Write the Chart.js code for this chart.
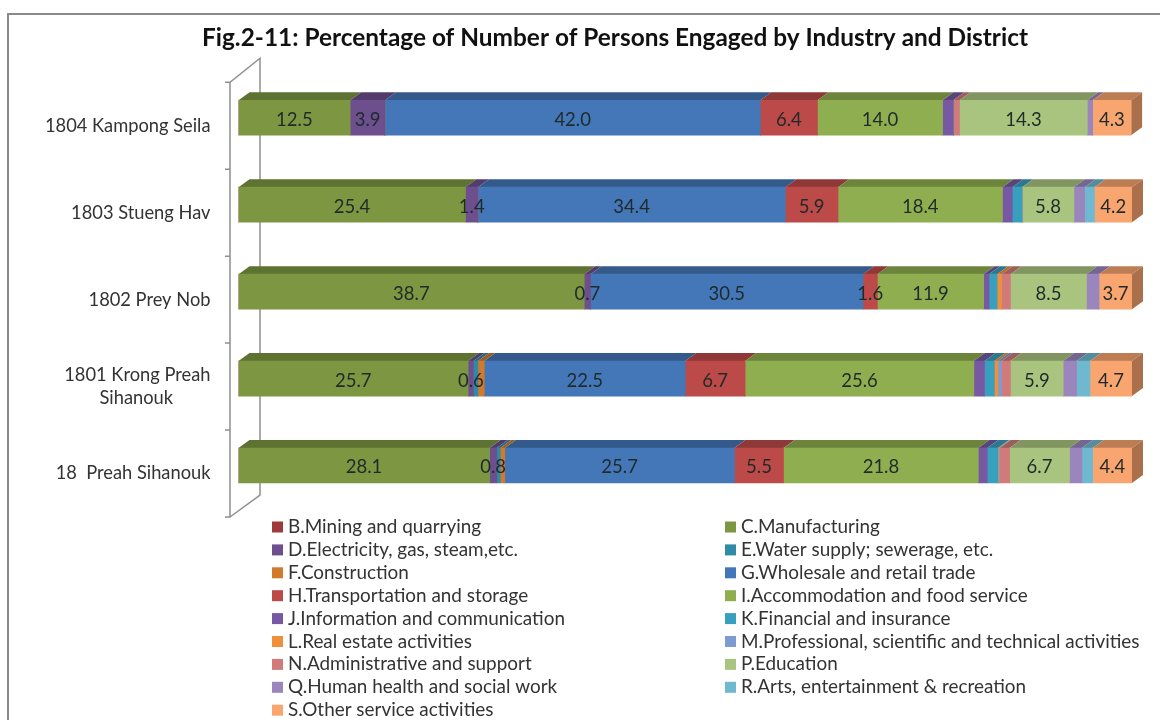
<!DOCTYPE html>
<html>
<head>
<meta charset="utf-8">
<script src="https://cdn.jsdelivr.net/npm/chart.js@4"></script>
<style>
html,body{margin:0;padding:0;background:#fff;overflow:hidden;width:1160px;height:720px}
#frame{position:absolute;left:7px;top:13px;width:1160px;height:720px;border:2px solid #8a8a8a;box-sizing:border-box}
</style>
</head>
<body>
<div id="frame"></div>
<canvas id="barChart" width="1160" height="720" style="position:absolute;left:0;top:0"></canvas>
<script>
// districts, top to bottom
var categories = ["1804 Kampong Seila", "1803 Stueng Hav", "1802 Prey Nob", ["1801 Krong Preah", "Sihanouk"], "18  Preah Sihanouk"];
var titleText = "Fig.2-11: Percentage of Number of Persons Engaged by Industry and District";

// percentages
var mining        = [0, 0, 0, 0, 0];
var manufacturing = [12.5, 25.4, 38.7, 25.7, 28.1];
var electricity   = [3.9, 1.4, 0.7, 0.6, 0.8];
var water         = [0, 0, 0, 0.5, 0.4];
var construction  = [0, 0, 0, 0.7, 0.5];
var wholesale     = [42.0, 34.4, 30.5, 22.5, 25.7];
var transport     = [6.4, 5.9, 1.6, 6.7, 5.5];
var accommodation = [14.0, 18.4, 11.9, 25.6, 21.8];
var information   = [1.2, 1.1, 0.6, 1.2, 1.0];
var financial     = [0, 1.1, 0.9, 1.1, 1.2];
var realEstate    = [0, 0, 0.5, 0.4, 0.1];
var professional  = [0, 0, 0, 0.4, 0.1];
var administrative = [0.7, 0, 1.0, 1.0, 1.1];
var education     = [14.3, 5.8, 8.5, 5.9, 6.7];
var health        = [0.6, 1.2, 1.4, 1.5, 1.4];
var arts          = [0, 1.1, 0, 1.5, 1.2];
var otherService  = [4.3, 4.2, 3.7, 4.7, 4.4];

var seriesNames = ["B.Mining and quarrying", "C.Manufacturing", "D.Electricity, gas, steam,etc.", "E.Water supply; sewerage, etc.",
  "F.Construction", "G.Wholesale and retail trade", "H.Transportation and storage", "I.Accommodation and food service",
  "J.Information and communication", "K.Financial and insurance", "L.Real estate activities",
  "M.Professional, scientific and technical activities", "N.Administrative and support", "P.Education",
  "Q.Human health and social work", "R.Arts, entertainment & recreation", "S.Other service activities"];
var seriesValues = [mining, manufacturing, electricity, water, construction, wholesale, transport, accommodation,
  information, financial, realEstate, professional, administrative, education, health, arts, otherService];
var seriesColors = ["#a03a3a", "#7c9641", "#6d4f8e", "#2f8aa6", "#d27a2c", "#4477b7", "#bb4a48", "#8fae4f",
  "#7759a3", "#389fbf", "#ef8f3a", "#7d9bd0", "#d07a7a", "#a9c47e", "#9a86bd", "#6fb9d0", "#f9a56f"];
// only these series carry a number on the bar
var labelledSeries = ["C.Manufacturing", "D.Electricity, gas, steam,etc.", "G.Wholesale and retail trade",
  "H.Transportation and storage", "I.Accommodation and food service", "P.Education", "S.Other service activities"];

function shade(hex, f) {
  var n = parseInt(hex.slice(1), 16);
  return "rgb(" + Math.round((n >> 16) * f) + "," + Math.round(((n >> 8) & 255) * f) + "," + Math.round((n & 255) * f) + ")";
}

var depthX = 11, depthY = 8;

// fake 3D: axis walls, then top faces and the end cap of the bars
var bars3d = {
  id: "bars3d",
  beforeDraw: function (chart) {
    // labels are clipped to the axis box, which is narrow because of the left padding
    chart.scales.y.left = 0;
  },
  beforeDatasetsDraw: function (chart) {
    var ctx = chart.ctx, y = chart.scales.y, a = chart.chartArea;
    var step = y.getPixelForValue(1) - y.getPixelForValue(0);
    var x0 = a.left - 8.5, x1 = a.left + 21.5, top = a.top + 8, bottom = a.top + 8 + step * categories.length;
    ctx.save();
    ctx.strokeStyle = "#8f8f8f";
    ctx.lineWidth = 1.5;
    ctx.beginPath();
    ctx.moveTo(x0 - 5, top); ctx.lineTo(x0, top); ctx.lineTo(x1, top - 24); ctx.lineTo(x1, bottom - 22); ctx.lineTo(x0, bottom);
    ctx.moveTo(x0 - 5, bottom); ctx.lineTo(x0, bottom); ctx.lineTo(x0, top);
    for (var i = 1; i < categories.length; i++) {
      ctx.moveTo(x0 - 5, top + step * i); ctx.lineTo(x0, top + step * i);
    }
    ctx.stroke();
    chart.data.datasets.forEach(function (ds, d) {
      chart.getDatasetMeta(d).data.forEach(function (bar) {
        if (bar.x - bar.base <= 0) return;
        var t = bar.y - bar.height / 2;
        ctx.fillStyle = shade(ds.backgroundColor, 0.76);
        ctx.beginPath();
        ctx.moveTo(bar.base, t); ctx.lineTo(bar.base + depthX, t - depthY);
        ctx.lineTo(bar.x + depthX, t - depthY); ctx.lineTo(bar.x, t);
        ctx.fill();
      });
    });
    var last = chart.data.datasets.length - 1;
    chart.getDatasetMeta(last).data.forEach(function (bar) {
      var t = bar.y - bar.height / 2, b = bar.y + bar.height / 2;
      ctx.fillStyle = shade(chart.data.datasets[last].backgroundColor, 0.68);
      ctx.beginPath();
      ctx.moveTo(bar.x, t); ctx.lineTo(bar.x + depthX, t - depthY);
      ctx.lineTo(bar.x + depthX, b - depthY); ctx.lineTo(bar.x, b);
      ctx.fill();
    });
    ctx.restore();
  },
  afterDatasetsDraw: function (chart) {
    var ctx = chart.ctx;
    ctx.save();
    ctx.font = "18.5px Lato";
    ctx.fillStyle = "#1f2a2a";
    ctx.textAlign = "center";
    ctx.textBaseline = "middle";
    chart.data.datasets.forEach(function (ds, d) {
      if (labelledSeries.indexOf(ds.label) < 0) return;
      chart.getDatasetMeta(d).data.forEach(function (bar, i) {
        ctx.fillText(ds.data[i].toFixed(1), (bar.base + bar.x) / 2, bar.y + 2);
      });
    });
    ctx.restore();
  }
};

// two column legend, filled row by row like the original
var twoColumnLegend = {
  id: "twoColumnLegend",
  afterDraw: function (chart) {
    var ctx = chart.ctx;
    ctx.save();
    ctx.font = "18.9px Lato";
    ctx.textBaseline = "middle";
    chart.data.datasets.forEach(function (ds, d) {
      var col = d % 2, row = Math.floor(d / 2);
      var x = col ? 725 : 272, y = 527 + row * 22.9;
      ctx.fillStyle = ds.backgroundColor;
      ctx.fillRect(x, y - 5.5, 11, 11);
      ctx.fillStyle = "#333";
      ctx.fillText(ds.label, x + 16, y);
    });
    ctx.restore();
  }
};

var ctxB = document.getElementById("barChart").getContext("2d");
var myBarChart = new Chart(ctxB, {
  type: "bar",
  data: {
    labels: categories,
    datasets: seriesNames.map(function (name, i) {
      return { label: name, data: seriesValues[i], backgroundColor: seriesColors[i], barThickness: 35, borderWidth: 0 };
    })
  },
  options: {
    indexAxis: "y",
    responsive: false,
    animation: false,
    // left padding centres the title; the axis labels run out over it
    layout: { padding: { left: 98, right: 28, top: 0, bottom: 211 } },
    plugins: {
      legend: { display: false },
      tooltip: { enabled: false },
      title: {
        display: true,
        text: titleText,
        color: "#111",
        font: { family: "Lato", size: 24.4, weight: "bold" },
        padding: { top: 24, bottom: 21 }
      }
    },
    scales: {
      x: { stacked: true, display: false, min: 0, max: 100 },
      y: {
        stacked: true,
        grid: { display: false },
        border: { display: false },
        afterFit: function (s) { s.width = 140.5; },
        ticks: {
          color: "#333",
          font: { family: "Lato", size: 18.3, lineHeight: 1.27 },
          padding: 20,
          labelOffset: 8,
          autoSkip: false,
          crossAlign: "near",
          // keep the wrapped label centred under its first line
          callback: function (v) {
            var l = categories[v];
            return Array.isArray(l) ? [l[0], l[1] + "        "] : l;
          }
        }
      }
    }
  },
  plugins: [bars3d, twoColumnLegend]
});
</script>
</body>
</html>
